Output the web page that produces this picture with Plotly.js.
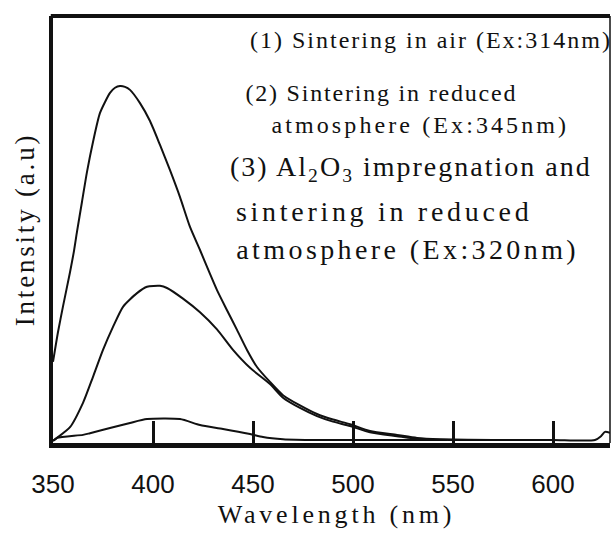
<!DOCTYPE html>
<html>
<head>
<meta charset="utf-8">
<script src="https://cdn.plot.ly/plotly-3.0.1.min.js"></script>
<style>
  html, body { margin: 0; padding: 0; background: #fff; }
  #chart { width: 612px; height: 535px; }
  svg text.xtitle { letter-spacing: 3.8px; translate: 5px 0; }
  svg text.ytitle { letter-spacing: 2.8px; }
  svg text.annotation-text { letter-spacing: 2px; }
  g.annotation[data-index="1"] text.annotation-text { letter-spacing: 1.8px; }
  g.annotation[data-index="2"] text.annotation-text { letter-spacing: 3.1px; }
  g.annotation[data-index="3"] text.annotation-text { letter-spacing: 2px; }
  g.annotation[data-index="4"] text.annotation-text { letter-spacing: 3.7px; }
  g.annotation[data-index="5"] text.annotation-text { letter-spacing: 3.4px; }
</style>
</head>
<body>
<div id="chart"></div>
<script>
// Photoluminescence emission spectra (arbitrary intensity units)
const wlAir = [350, 352.5, 355, 358.5, 360.5, 362, 364.5, 367, 370, 373.5, 378.5, 381, 383.5, 386, 388.5, 393.5, 398.5, 403.5, 408.5, 413.5, 418.5, 423.5, 428.5, 432, 437, 442, 447, 452, 458.5, 465, 473.5, 482, 490, 498.5, 508.5, 522, 532, 543.5, 570, 600, 621, 624, 626, 628.5];
const intAir = [19, 26, 32, 40, 45, 49.5, 56.5, 63.5, 70.5, 77.3, 82.0, 83.2, 83.6, 83.4, 82.7, 79.6, 75.4, 69.8, 63.9, 57.6, 50.6, 45.2, 39.6, 35.8, 31.1, 26.5, 21.8, 17.8, 14.3, 11.2, 8.8, 6.8, 5.5, 4.4, 2.8, 1.9, 1.2, 0.9, 0.7, 0.7, 0.7, 1.6, 2.6, 2.4];

const wlReduced = [350, 352, 358.5, 365, 370, 375, 380, 385, 392, 397, 403.5, 407, 415, 423.5, 432, 440, 448.5, 458.5, 465, 473.5, 482, 490, 498.5, 508.5, 522, 533.5, 560, 580];
const intReduced = [0.5, 1.2, 3.7, 9.4, 15.5, 21.8, 27.2, 31.9, 35.1, 36.6, 36.8, 36.3, 33.8, 30.6, 26.6, 21.8, 17.6, 13.8, 10.6, 8.2, 6.3, 5.0, 4.0, 2.5, 1.6, 0.9, 0.7, 0.7];

const wlAl2O3 = [350, 352, 365, 368.5, 378.5, 388.5, 397, 413.5, 423.5, 435, 448.5, 455, 465, 482, 547];
const intAl2O3 = [0.5, 1.2, 1.9, 2.3, 3.5, 4.7, 5.6, 5.6, 4.2, 3.3, 2.1, 1.4, 0.9, 0.7, 0.7];

const xTicks = [350, 400, 450, 500, 550, 600];

const serif = "'Liberation Serif', 'Times New Roman', Times, serif";
const sans = "'Liberation Sans', Arial, sans-serif";

const lineStyle = { color: '#111', width: 2, shape: 'spline', smoothing: 0.6 };
const traces = [
  { x: wlAir, y: intAir, name: '(1)' },
  { x: wlReduced, y: intReduced, name: '(2)' },
  { x: wlAl2O3, y: intAl2O3, name: '(3)' }
].map(t => Object.assign(t, { type: 'scatter', mode: 'lines', line: lineStyle, hoverinfo: 'skip' }));

function note(text, x, y, size) {
  return {
    text: text, xref: 'paper', yref: 'paper', x: x, y: y,
    xanchor: 'left', yanchor: 'middle', showarrow: false,
    font: { family: serif, size: size, color: '#111' }
  };
}

const layout = {
  width: 612, height: 535,
  margin: { l: 53, r: 2, t: 16, b: 92 },
  paper_bgcolor: '#fff', plot_bgcolor: '#fff',
  showlegend: false,
  xaxis: {
    range: [350, 628.5], tickvals: xTicks, ticktext: xTicks.map(String),
    ticks: 'inside', ticklen: 22, tickwidth: 3, tickcolor: '#111',
    showline: true, linewidth: 5, linecolor: '#111',
    showgrid: false, zeroline: false,
    tickfont: { family: sans, size: 26, color: '#111' },
    ticklabelstandoff: 14,
    title: { text: 'Wavelength (nm)', font: { family: serif, size: 26, color: '#111' }, standoff: 8 }
  },
  yaxis: {
    range: [0, 100], showticklabels: false, ticks: '',
    showline: true, linewidth: 4, linecolor: '#111',
    showgrid: false, zeroline: false,
    title: { text: 'Intensity (a.u)', font: { family: serif, size: 27, color: '#111' }, standoff: 8 }
  },
  shapes: [
    { type: 'line', xref: 'paper', yref: 'paper', x0: -0.004, x1: 1, y0: 1, y1: 1, line: { color: '#111', width: 4 } },
    { type: 'line', xref: 'paper', yref: 'paper', x0: 1, x1: 1, y0: 0, y1: 1, line: { color: '#111', width: 1.5 } }
  ],
  annotations: [
    note('(1) Sintering in air (Ex:314nm)', 0.350, 0.944, 24),
    note('(2) Sintering in reduced', 0.337, 0.820, 24),
    note('atmosphere (Ex:345nm)', 0.409, 0.745, 24),
    note('(3) Al<sub>2</sub>O<sub>3</sub> impregnation and', 0.314, 0.644, 28),
    note('sintering in reduced', 0.355, 0.541, 28),
    note('atmosphere (Ex:320nm)', 0.352, 0.452, 28)
  ]
};

Plotly.newPlot('chart', traces, layout, { staticPlot: true, displayModeBar: false });
</script>
</body>
</html>
